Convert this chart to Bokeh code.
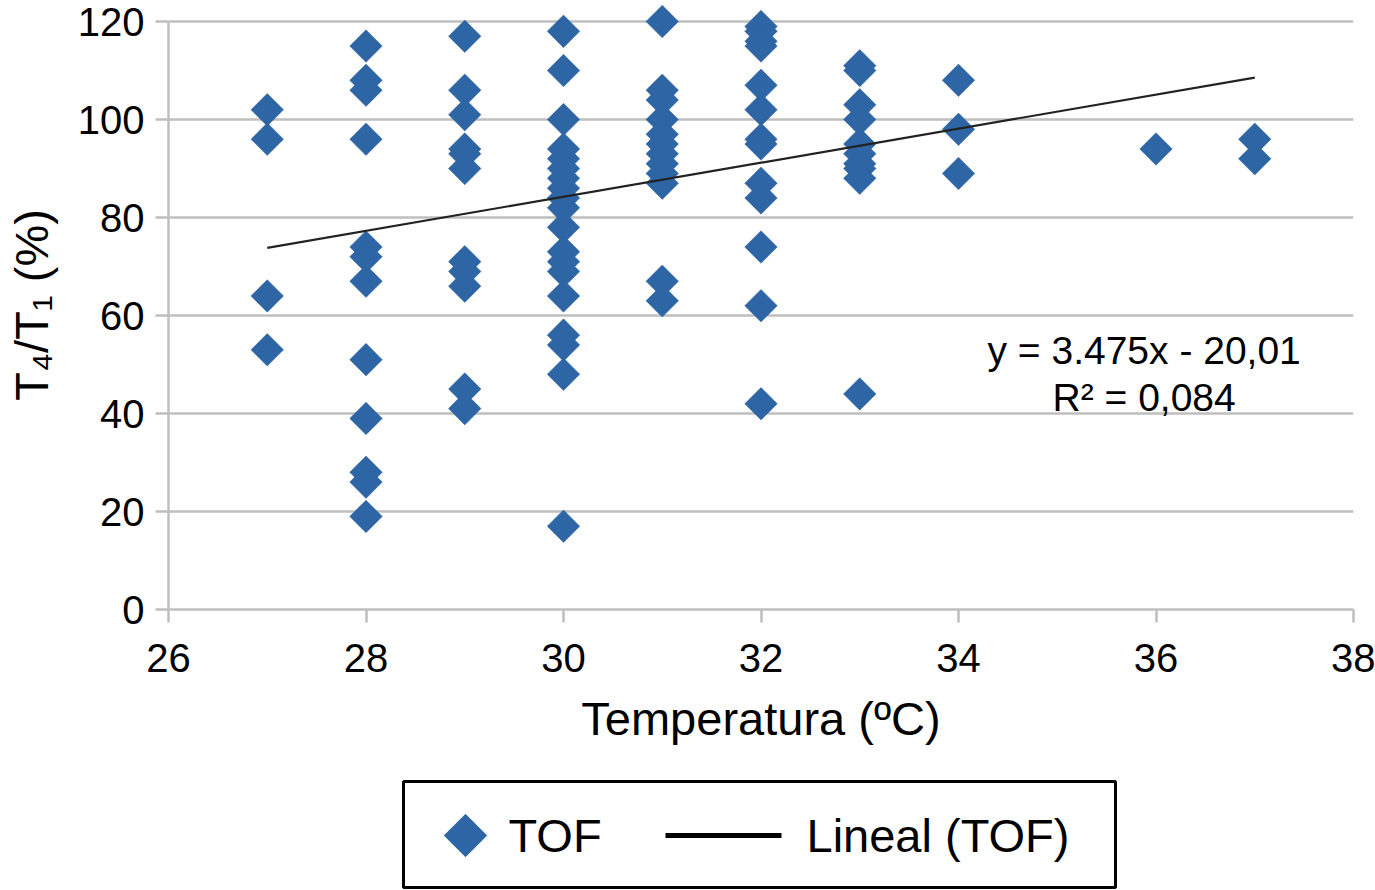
from bokeh.plotting import figure
from bokeh.models import Label, FixedTicker, Spacer
from bokeh.layouts import column, row
from bokeh.core.properties import value
from bokeh.embed import file_html
from bokeh.resources import INLINE

# Datos: temperatura (ºC) y T4/T1 (%)
temp_27 = [102, 96, 64, 53]
temp_28 = [115, 108, 106, 96, 74, 72, 67, 51, 39, 28, 26, 19]
temp_29 = [117, 106, 101, 94, 93, 90, 71, 69, 66, 45, 41]
temp_30 = [118, 110, 100, 94, 92, 90, 88, 86, 84, 82, 78, 73, 71, 69, 64, 56, 54, 48, 17]
temp_31 = [120, 106, 104, 100, 97, 95, 93, 91, 89, 87, 67, 63]
temp_32 = [119, 118, 116, 115, 107, 102, 96, 95, 87, 84, 74, 62, 42]
temp_33 = [111, 110, 103, 100, 95, 93, 91, 90, 88, 44]
temp_34 = [108, 98, 89]
temp_36 = [94]
temp_37 = [96, 92]

grupos = {27: temp_27, 28: temp_28, 29: temp_29, 30: temp_30, 31: temp_31,
          32: temp_32, 33: temp_33, 34: temp_34, 36: temp_36, 37: temp_37}

x_ticks = [26, 28, 30, 32, 34, 36, 38]
y_ticks = [0, 20, 40, 60, 80, 100, 120]

# Recta de regresión indicada en el gráfico
pendiente = 3.475
ordenada = -20.01
r2 = "0,084"

xs = []
ys = []
for t, vals in grupos.items():
    xs += [t] * len(vals)
    ys += vals

FONT = "Liberation Sans"
GRIS = "#BFBFBF"
AZUL = "#2E65A5"
ROMBO = 0.785398  # cuadrado girado 45º

# el eje y llega hasta 124.3 para que los rombos de 120 no se corten
p = figure(width=1375, height=779, x_range=(26, 38), y_range=(0, 124.3),
           output_backend="svg", toolbar_location=None,
           min_border_left=168, min_border_right=22, min_border_top=0,
           min_border_bottom=170)
p.outline_line_color = None
p.xgrid.visible = False
p.ygrid.grid_line_color = GRIS
p.ygrid.grid_line_width = 2.5
p.ygrid.ticker = FixedTicker(ticks=y_ticks)

p.xaxis.ticker = FixedTicker(ticks=x_ticks)
p.yaxis.ticker = FixedTicker(ticks=y_ticks)
p.yaxis.bounds = (0, 120)
for ax in (p.xaxis[0], p.yaxis[0]):
    ax.axis_line_color = GRIS
    ax.axis_line_width = 2.5
    ax.major_tick_line_color = GRIS
    ax.major_tick_line_width = 2.5
    ax.major_tick_out = 13
    ax.major_tick_in = 0
    ax.minor_tick_line_color = None
    ax.major_label_text_font = FONT
    ax.major_label_text_font_size = "40px"
    ax.major_label_text_color = "black"
    ax.axis_label_text_font = FONT
    ax.axis_label_text_font_size = "47px"
    ax.axis_label_text_font_style = "normal"
    ax.axis_label_text_color = "black"

p.xaxis.axis_label = "Temperatura (ºC)"
p.xaxis.major_label_standoff = 21
p.xaxis.axis_label_standoff = 17
p.yaxis.axis_label = "T₄/T₁ (%)"
p.yaxis.major_label_standoff = 11
p.yaxis.axis_label_standoff = 17

p.scatter(xs, ys, marker="square", size=23, angle=ROMBO,
          fill_color=AZUL, line_color=AZUL, line_width=0.5)

x_lin = [min(xs), max(xs)]
y_lin = [pendiente * x + ordenada for x in x_lin]
p.line(x_lin, y_lin, line_color="#222222", line_width=2.2)

p.add_layout(Label(x=35.88, y=52.9, text="y = 3.475x - 20,01",
                   text_align="center", text_baseline="middle",
                   text_font=FONT, text_font_size="39px", text_color="black"))
p.add_layout(Label(x=35.88, y=43.3, text="R² = " + r2,
                   text_align="center", text_baseline="middle",
                   text_font=FONT, text_font_size="39px", text_color="black"))

# Leyenda dibujada aparte (recuadro negro bajo el gráfico)
ley = figure(width=716, height=110, x_range=(0, 712), y_range=(0, 106),
             output_backend="svg", toolbar_location=None,
             min_border_left=2, min_border_right=2, min_border_top=2,
             min_border_bottom=2)
ley.axis.visible = False
ley.grid.visible = False
ley.outline_line_color = "black"
ley.outline_line_width = 3
ley.outline_line_alpha = 1
ley.scatter([62], [52], marker="square", size=30, angle=ROMBO,
            fill_color=AZUL, line_color=AZUL)
ley.line([262, 378], [52, 52], line_color="black", line_width=5)
ley.text([105, 403], [52, 52], text=["TOF", "Lineal (TOF)"],
         text_font=value(FONT), text_font_size="47px", text_color="black",
         text_baseline="middle", text_align="left")

layout = column(p, row(Spacer(width=401, height=110), ley))

open("out.html", "w").write(file_html(layout, INLINE))
